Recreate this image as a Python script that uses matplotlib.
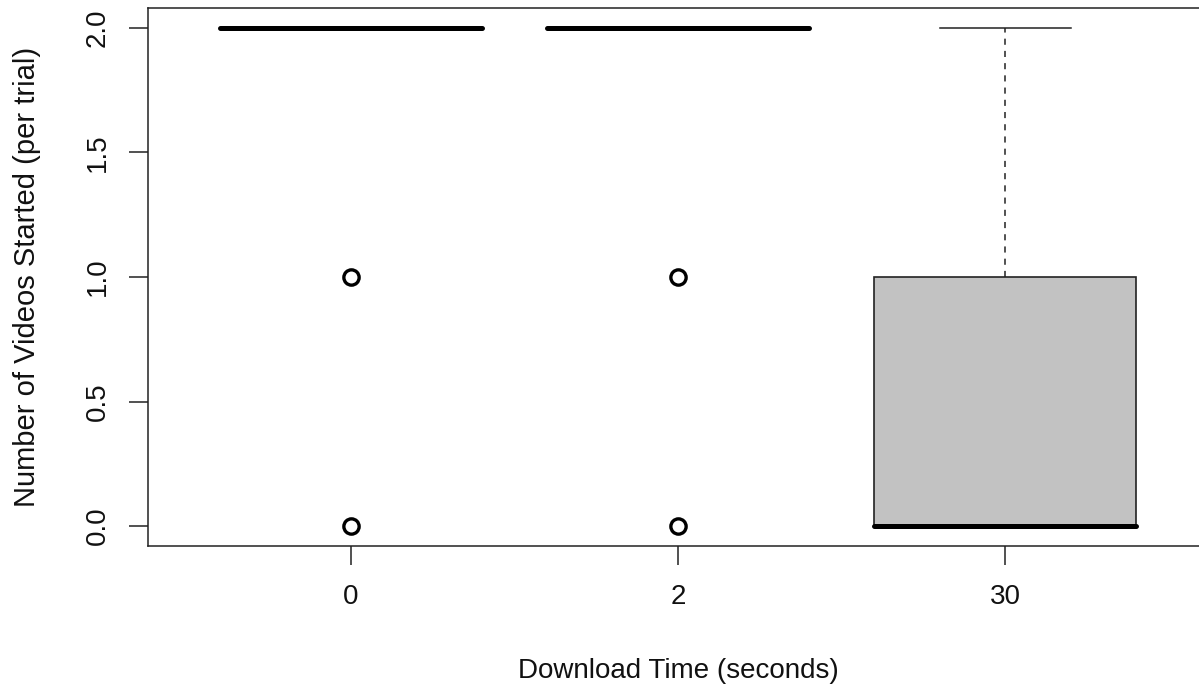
import matplotlib
matplotlib.use("Agg")
import matplotlib.pyplot as plt

# --- DATA (box statistics) ---
groups = ["0", "2", "30"]
medians = [2.0, 2.0, 0.0]
q1 = [2.0, 2.0, 0.0]
q3 = [2.0, 2.0, 1.0]
whis_lo = [2.0, 2.0, 0.0]
whis_hi = [2.0, 2.0, 2.0]
outliers = [[1.0, 0.0], [1.0, 0.0], []]

plt.rcParams['font.family'] = ['Liberation Sans', 'DejaVu Sans']

stats = []
for i, g in enumerate(groups):
    stats.append(dict(label=g, med=medians[i], q1=q1[i], q3=q3[i],
                      whislo=whis_lo[i], whishi=whis_hi[i], fliers=outliers[i]))

fig = plt.figure(figsize=(11.99, 6.86), dpi=100)
ax = fig.add_axes([148 / 1199, 140 / 686, 1060 / 1199, 538 / 686])

positions = list(range(1, len(groups) + 1))
ax.bxp(stats, positions=positions, widths=0.8, patch_artist=True,
       boxprops=dict(facecolor="#c2c2c2", edgecolor="#222222", linewidth=1.2),
       medianprops=dict(color="black", linewidth=3.6, solid_capstyle="round"),
       whiskerprops=dict(color="#222222", linewidth=1.1, linestyle=(0, (4, 4))),
       capprops=dict(color="#222222", linewidth=1.1),
       capwidths=0.4,
       flierprops=dict(marker="o", markerfacecolor="none", markeredgecolor="black",
                       markersize=11, markeredgewidth=2.4))

ax.set_xlim(0.38, 3.62)
ax.set_ylim(-0.08, 2.08)

ax.set_xticks(positions)
ax.set_xticklabels(groups)
ax.set_yticks([0.0, 0.5, 1.0, 1.5, 2.0])
ax.set_yticklabels(["0.0", "0.5", "1.0", "1.5", "2.0"], rotation=90, va="center")

ax.tick_params(axis="both", direction="out", length=14, width=1.1,
               labelsize=20, color="#222222", labelcolor="#111111")
ax.tick_params(axis="x", pad=13)
ax.tick_params(axis="y", pad=13)

for s in ax.spines.values():
    s.set_linewidth(1.1)
    s.set_color("#222222")

ax.set_xlabel("Download Time (seconds)", fontsize=20, color="#111111", labelpad=35)
ax.set_ylabel("Number of Videos Started (per trial)", fontsize=21, color="#111111", labelpad=31)

plt.savefig("out.png", dpi=100)
plt.close()
